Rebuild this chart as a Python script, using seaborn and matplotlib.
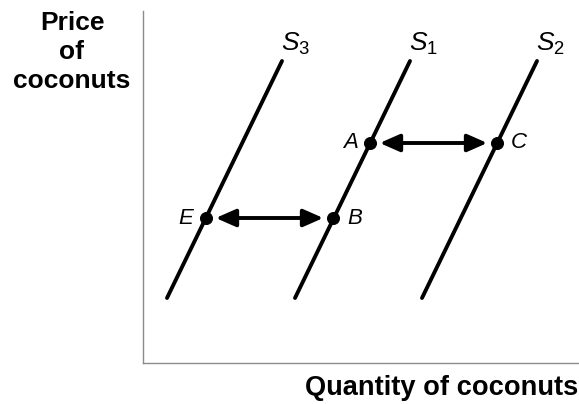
import numpy as np
import pandas as pd
import matplotlib
matplotlib.use("Agg")
import matplotlib.pyplot as plt
import seaborn as sns

# supply curves: quantity at the low and high end of the price range
curve_names = ["S3", "S1", "S2"]
curve_labels = ["$S_3$", "$S_1$", "$S_2$"]
price_ends = [6.5, 30.2]
qty_low = [2.4, 15.2, 27.9]
qty_high = [13.9, 26.7, 39.4]

# marked points
point_names = ["E", "B", "A", "C"]
point_qty = [6.3, 19.0, 22.7, 35.4]
point_price = [14.5, 14.5, 22.0, 22.0]

# double arrows between points
arrow_pairs = [("E", "B"), ("A", "C")]

sns.set_style("white")
plt.rcParams["font.family"] = ["Liberation Sans", "DejaVu Sans"]
plt.rcParams["text.color"] = "black"
plt.rcParams["mathtext.fontset"] = "custom"
plt.rcParams["mathtext.rm"] = "Liberation Sans"
plt.rcParams["mathtext.it"] = "Liberation Sans:italic"

rows = []
for name, lo, hi in zip(curve_names, qty_low, qty_high):
    rows.append({"curve": name, "qty": lo, "price": price_ends[0]})
    rows.append({"curve": name, "qty": hi, "price": price_ends[1]})
curves = pd.DataFrame(rows)
pts = pd.DataFrame({"name": point_names, "qty": point_qty, "price": point_price})

fig = plt.figure(figsize=(5.79, 4.04), dpi=100)
ax = fig.add_axes([143 / 579, 41 / 404, 436 / 579, 352 / 404])

sns.lineplot(data=curves, x="qty", y="price", hue="curve", units="curve",
             estimator=None, sort=False, palette=["black"] * 3,
             linewidth=2.8, legend=False, ax=ax)
sns.scatterplot(data=pts, x="qty", y="price", color="black", s=75,
                edgecolor="black", zorder=5, ax=ax)

# curve labels at the top ends
for lab, hi in zip(curve_labels, qty_high):
    ax.annotate(lab, (hi, price_ends[1]), xytext=(-1, 3), textcoords="offset points",
                ha="left", va="bottom", fontsize=19)

# point labels
for _, r in pts.iterrows():
    if r["name"] in ("E", "A"):
        dx, ha = -9, "right"
    else:
        dx, ha = 10, "left"
    ax.annotate(r["name"], (r["qty"], r["price"]), xytext=(dx, 0),
                textcoords="offset points", ha=ha, va="center",
                fontsize=16, fontstyle="italic")

# arrows
lookup = pts.set_index("name")
for a, b in arrow_pairs:
    ax.annotate("", xy=(lookup.loc[b, "qty"], lookup.loc[b, "price"]),
                xytext=(lookup.loc[a, "qty"], lookup.loc[a, "price"]),
                arrowprops=dict(arrowstyle="<|-|>,head_length=0.75,head_width=0.33",
                                color="black", lw=2.8, shrinkA=7, shrinkB=7,
                                mutation_scale=16))

ax.set_xlim(0, 43.6)
ax.set_ylim(0, 35.2)
ax.set_xticks([])
ax.set_yticks([])
ax.set_xlabel("")
ax.set_ylabel("")
sns.despine(ax=ax)
for side in ("left", "bottom"):
    ax.spines[side].set_color("#8c8c8c")
    ax.spines[side].set_linewidth(1.0)

fig.text(72 / 579, 1 - 52 / 404, "Price\nof\ncoconuts", ha="center", va="center",
         fontsize=19, fontweight="bold", linespacing=1.27)
fig.text(578 / 579, 1 - 388 / 404, "Quantity of coconuts", ha="right", va="center",
         fontsize=19.6, fontweight="bold")

fig.savefig("out.png", dpi=100)
